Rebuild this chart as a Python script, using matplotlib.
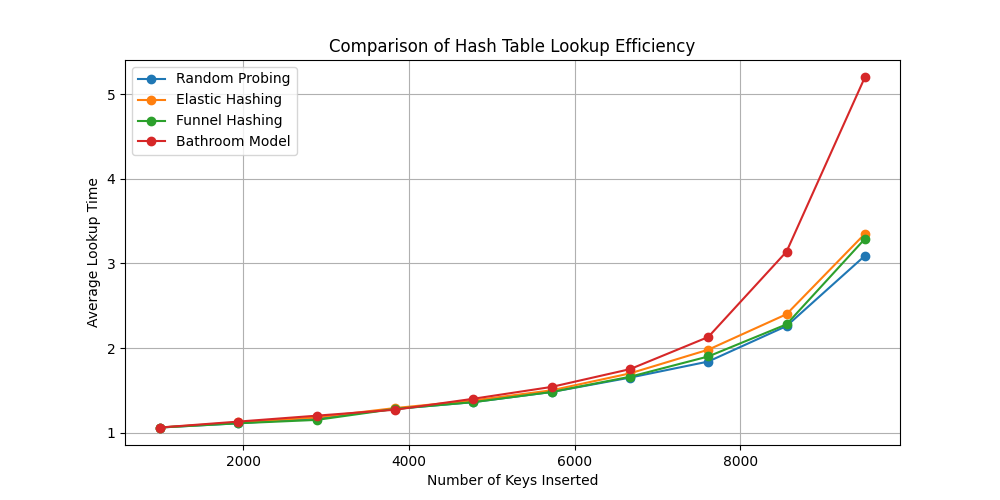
import numpy as np
import matplotlib
matplotlib.use('Agg')
import matplotlib.pyplot as plt

# number of keys inserted
keys = [1000, 1944, 2889, 3833, 4778, 5722, 6667, 7611, 8556, 9500]

random_probing = [1.06, 1.11, 1.17, 1.28, 1.36, 1.48, 1.65, 1.84, 2.26, 3.09]
elastic_hashing = [1.06, 1.12, 1.18, 1.29, 1.38, 1.50, 1.70, 1.98, 2.40, 3.35]
funnel_hashing = [1.06, 1.11, 1.15, 1.28, 1.36, 1.48, 1.66, 1.90, 2.28, 3.29]
bathroom_model = [1.06, 1.13, 1.20, 1.27, 1.40, 1.54, 1.75, 2.13, 3.14, 5.20]

plt.figure(figsize=(10, 5))
plt.plot(keys, random_probing, marker='o', label='Random Probing')
plt.plot(keys, elastic_hashing, marker='o', label='Elastic Hashing')
plt.plot(keys, funnel_hashing, marker='o', label='Funnel Hashing')
plt.plot(keys, bathroom_model, marker='o', label='Bathroom Model')
plt.xlabel("Number of Keys Inserted")
plt.ylabel("Average Lookup Time")
plt.title("Comparison of Hash Table Lookup Efficiency")
plt.legend()
plt.grid(True)
plt.savefig('out.png', dpi=100)
